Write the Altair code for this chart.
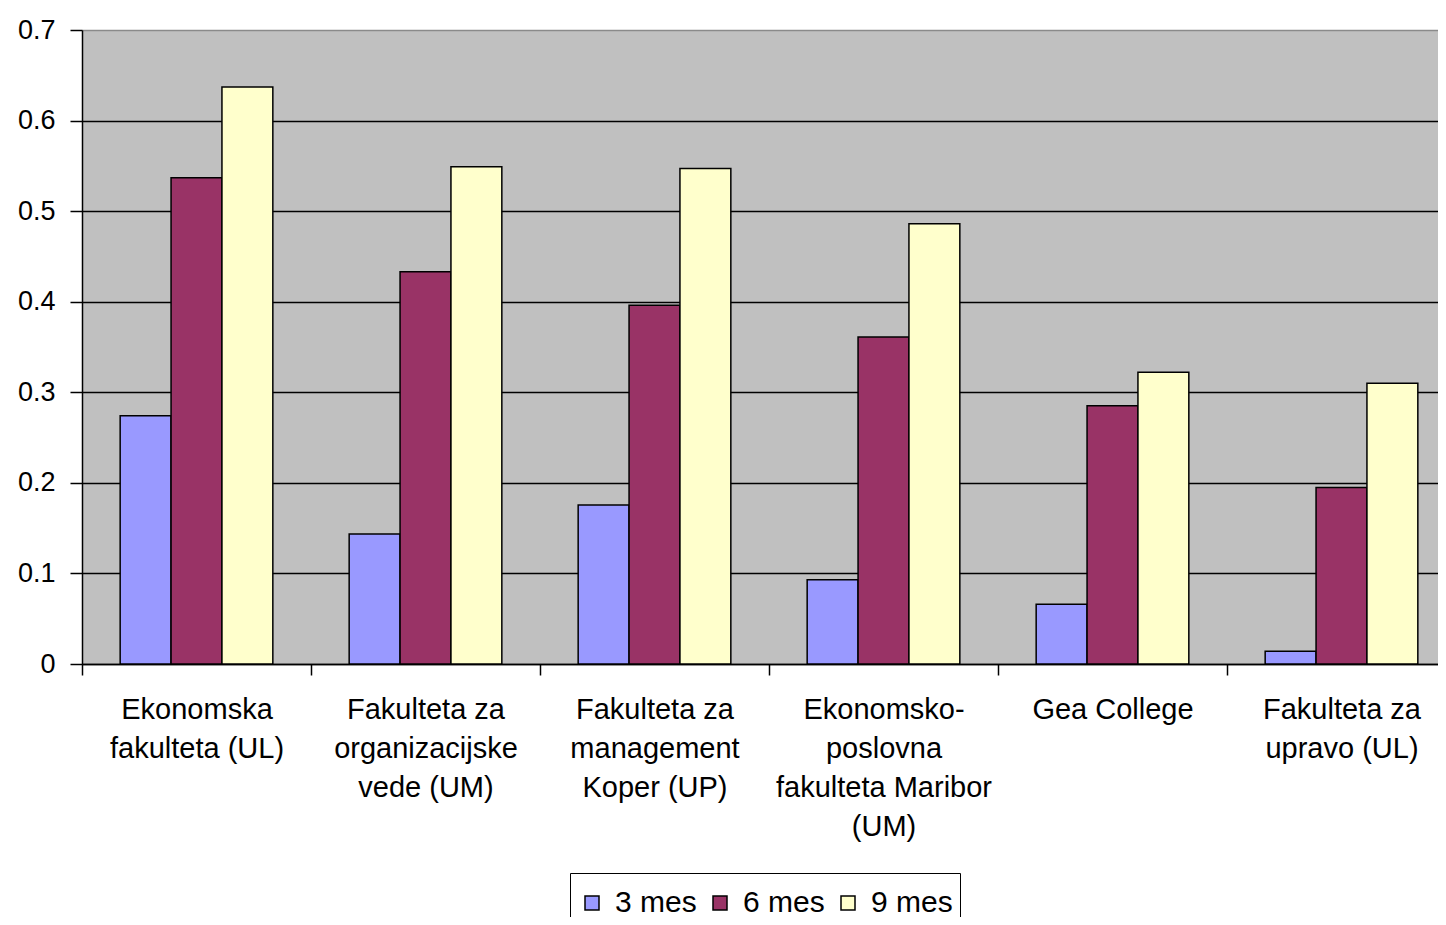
import altair as alt
import pandas as pd

categories = [
    "Ekonomska\nfakulteta (UL)",
    "Fakulteta za\norganizacijske\nvede (UM)",
    "Fakulteta za\nmanagement\nKoper (UP)",
    "Ekonomsko-\nposlovna\nfakulteta Maribor\n(UM)",
    "Gea College",
    "Fakulteta za\nupravo (UL)",
]
series = ["3 mes", "6 mes", "9 mes"]
m3 = [0.274, 0.1435, 0.1755, 0.093, 0.066, 0.014]
m6 = [0.537, 0.433, 0.396, 0.361, 0.285, 0.195]
m9 = [0.637, 0.549, 0.547, 0.486, 0.322, 0.310]
colors = ["#9999FF", "#993366", "#FFFFCC"]
y_ticks = [0, 0.1, 0.2, 0.3, 0.4, 0.5, 0.6, 0.7]

rows = []
for i, c in enumerate(categories):
    for s, vals in zip(series, [m3, m6, m9]):
        rows.append({"cat": c, "series": s, "value": vals[i]})
df = pd.DataFrame(rows)

FONT = "Liberation Sans"

chart = alt.Chart(df).mark_bar(stroke="black", strokeWidth=1.5).encode(
    x=alt.X(
        "cat:N",
        sort=categories,
        scale=alt.Scale(range=[0, 1374], paddingInner=0, paddingOuter=0),
        axis=alt.Axis(
            title=None,
            labelAngle=0,
            labelExpr="split(datum.label, '\\n')",
            labelFont=FONT,
            labelFontSize=29,
            labelColor="black",
            labelLineHeight=39,
            labelPadding=20,
            labelBaseline="top",
            labelLimit=400,
            tickBand="extent",
            tickSize=11,
            tickColor="black",
            tickWidth=1.5,
            domainColor="black",
            domainWidth=1.5,
            grid=False,
        ),
    ),
    xOffset=alt.XOffset(
        "series:N", sort=series, scale=alt.Scale(paddingOuter=0.75, paddingInner=0)
    ),
    y=alt.Y(
        "value:Q",
        scale=alt.Scale(domain=[0, 0.7], nice=False),
        axis=alt.Axis(
            title=None,
            values=y_ticks,
            format=".1~f",
            labelFont=FONT,
            labelFontSize=27,
            labelColor="black",
            labelPadding=15,
            tickSize=12,
            tickColor="black",
            tickWidth=1.5,
            domainColor="black",
            domainWidth=1.5,
            grid=True,
            gridColor={"condition": {"test": "datum.value >= 0.69", "value": "#8a8a8a"}, "value": "black"},
            gridWidth=1.5,
            gridOpacity=1,
        ),
    ),
    color=alt.Color(
        "series:N",
        sort=series,
        scale=alt.Scale(domain=series, range=colors),
        legend=alt.Legend(
            title=" ",
            titleFontSize=6,
            titlePadding=2,
            titleOrient="top",
            orient="none",
            legendX=488,
            legendY=843,
            direction="horizontal",
            strokeColor="black",
            fillColor="white",
            padding=7,
            labelFont=FONT,
            labelFontSize=30,
            labelColor="black",
            labelOffset=8,
            columnPadding=8,
            symbolType="square",
            symbolSize=196,
            symbolStrokeColor="black",
            symbolStrokeWidth=1.5,
            symbolOpacity=1,
        ),
    ),
).properties(
    width=1356,
    height=634,
    autosize=alt.AutoSizeParams(type="none"),
    padding={"left": 74, "top": 22, "right": 0, "bottom": 253},
    background="white",
).configure_view(fill="#C0C0C0", stroke=None)

chart.save("out.html", embed_options={"renderer": "svg", "actions": False})
